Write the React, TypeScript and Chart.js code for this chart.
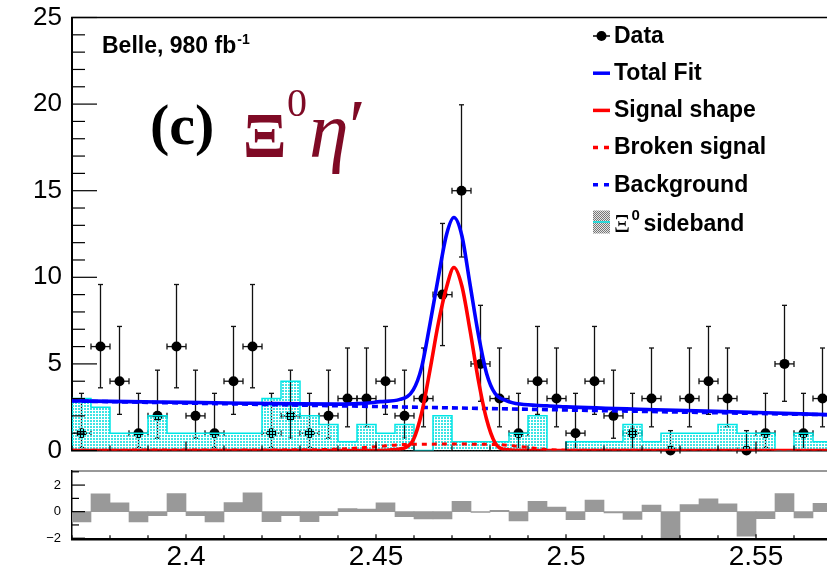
import React, { useEffect, useRef } from 'react';
import { Chart, registerables } from 'chart.js';

Chart.register(...registerables);

// ---------------- data ----------------
const binLow = 2.37;
const binWidth = 0.005;
const xMin = 2.37;
const xMax = 2.57;

const counts = [1, 6, 4, 1, 2, 6, 2, 1, 4, 6, 1, 2, 1, 2, 3, 3, 4, 2, 3, 9, 15, 5, 3, 1, 4, 3, 1, 4, 2, 1, 3, 0, 3, 4, 3, 0, 1, 5, 1, 3];
const sideband = [3, 2.5, 1, 1, 2, 1, 1, 1, 1, 1, 3, 4, 2, 1.5, 0.5, 1.5, 1, 1.5, 0, 2, 0.5, 0.5, 0.5, 1, 2, 0, 0.5, 0.5, 0.5, 1.5, 0.5, 1, 1, 1, 1.5, 1, 1, 0, 1, 0.5];
const pulls = [-0.78, 1.34, 0.66, -0.78, -0.3, 1.37, -0.3, -0.78, 0.68, 1.42, -0.76, -0.3, -0.76, -0.3, 0.23, 0.2, 0.66, -0.38, -0.55, -0.55, 0.78, -0.05, 0.1, -0.7, 0.78, 0.35, -0.6, 0.88, -0.1, -0.58, 0.5, -1.95, 0.53, 0.96, 0.58, -1.85, -0.53, 1.37, -0.48, 0.63];

// 68% Poisson interval limits, indexed by count
const poissonLow = [0, 0.173, 0.708, 1.367, 2.086, 2.84, 3.62, 4.419, 5.232, 6.057, 6.891, 7.734, 8.585, 9.441, 10.304, 11.172];
const poissonHigh = [1.148, 3.3, 4.638, 5.918, 7.163, 8.382, 9.584, 10.77, 11.95, 13.11, 14.27, 15.42, 16.56, 17.7, 18.83, 19.96];

// fit curves
const totalFitX = [2.37, 2.385, 2.4, 2.415, 2.43, 2.44, 2.447, 2.4511, 2.4563, 2.4598, 2.462, 2.4642, 2.4664, 2.4686, 2.4705, 2.4726, 2.4747, 2.4769, 2.4791, 2.4813, 2.4844, 2.4879, 2.495, 2.5, 2.5263, 2.5526, 2.57];
const totalFitY = [2.87, 2.82, 2.78, 2.73, 2.69, 2.68, 2.72, 2.82, 2.95, 3.5, 4.8, 7.3, 10.0, 12.5, 13.45, 12.4, 9.65, 6.75, 4.45, 3.3, 2.87, 2.68, 2.58, 2.52, 2.34, 2.18, 2.06];
const signalX = [2.37, 2.45, 2.455, 2.4581, 2.4598, 2.462, 2.4642, 2.4664, 2.4686, 2.4705, 2.4726, 2.4747, 2.4769, 2.4791, 2.4813, 2.4835, 2.49, 2.57];
const signalY = [0, 0, 0.05, 0.2, 0.6, 2.15, 4.64, 7.34, 9.45, 10.57, 9.5, 7.0, 4.1, 1.8, 0.45, 0.07, 0, 0];
const brokenX = [2.37, 2.43, 2.44, 2.45, 2.457, 2.47, 2.483, 2.489, 2.495, 2.5, 2.57];
const brokenY = [0.02, 0.04, 0.08, 0.22, 0.34, 0.37, 0.33, 0.2, 0.06, 0.02, 0.0];
const bkgX = [2.37, 2.47, 2.57];
const bkgY = [2.86, 2.46, 2.06];

// axes
const mainYTicks = [0, 5, 10, 15, 20, 25];
const mainYLabels = ['0', '5', '10', '15', '20', '25'];
const pullYTicks = [-2, 0, 2];
const pullYLabels = ['\u22122', '0', '2'];
const xTicks = [2.4, 2.45, 2.5, 2.55];
const xTickLabels = ['2.4', '2.45', '2.5', '2.55'];

// texts
const legendLabels = ['Data', 'Total Fit', 'Signal shape', 'Broken signal', 'Background', ' sideband'];
const sidebandSymbol = 'Ξ';
const sidebandSup = '0';
const experimentLabel = 'Belle, 980 fb';
const experimentSup = '-1';
const panelLabel = '(c)';
const channelXi = 'Ξ';
const channelSup = '0';
const channelEta = 'η';
const channelPrime = '′';

// ---------------- style ----------------
const SANS = '"Liberation Sans", Arial, Helvetica, sans-serif';
const SERIF = '"Liberation Serif", "Times New Roman", serif';
const BLUE = '#0000ff';
const RED = '#ff0000';
const CYAN = '#00e6e6';
const DARKRED = '#7f0a25';

const pts = (xs: number[], ys: number[]) => xs.map((x, i) => ({ x, y: ys[i] }));
const centers = counts.map((_, i) => binLow + (i + 0.5) * binWidth);

function histPoints(vals: number[]) {
  const out: { x: number; y: number }[] = [{ x: binLow, y: 0 }];
  vals.forEach((v, i) => out.push({ x: binLow + i * binWidth, y: v }));
  const end = binLow + vals.length * binWidth;
  out.push({ x: end, y: vals[vals.length - 1] });
  out.push({ x: end, y: 0 });
  return out;
}

function makeChecker(color: string, bg: string | null, size = 4) {
  const c = document.createElement('canvas');
  c.width = size;
  c.height = size;
  const g = c.getContext('2d')!;
  if (bg) {
    g.fillStyle = bg;
    g.fillRect(0, 0, size, size);
  }
  g.fillStyle = color;
  g.fillRect(0, 0, size / 2, size / 2);
  g.fillRect(size / 2, size / 2, size / 2, size / 2);
  return g.createPattern(c, 'repeat')!;
}

function makeDots(color: string, tile: number, dot: number) {
  const c = document.createElement('canvas');
  c.width = tile;
  c.height = tile;
  const g = c.getContext('2d')!;
  g.fillStyle = color;
  g.fillRect(0, 0, dot, dot);
  return g.createPattern(c, 'repeat')!;
}

function seg(ctx: CanvasRenderingContext2D, x1: number, y1: number, x2: number, y2: number) {
  ctx.beginPath();
  ctx.moveTo(x1, y1);
  ctx.lineTo(x2, y2);
  ctx.stroke();
}

const noOverflow = (s: any) => {
  s.paddingTop = 0;
  s.paddingBottom = 0;
  s.paddingLeft = 0;
  s.paddingRight = 0;
};

const errorBarPlugin = {
  id: 'errorBars',
  beforeDatasetDraw(chart: any, args: any) {
    if (args.index !== 0) return;
    const { ctx } = chart;
    const x = chart.scales.x;
    const y = chart.scales.y;
    ctx.save();
    ctx.strokeStyle = '#111';
    ctx.lineWidth = 1.3;
    counts.forEach((c, i) => {
      const cx = centers[i];
      const px = x.getPixelForValue(cx);
      const pl = x.getPixelForValue(cx - binWidth / 2);
      const pr = x.getPixelForValue(cx + binWidth / 2);
      const py = y.getPixelForValue(c);
      const yt = y.getPixelForValue(poissonHigh[c]);
      const yb = y.getPixelForValue(poissonLow[c]);
      seg(ctx, px, yt, px, yb);
      seg(ctx, px - 2.5, yt, px + 2.5, yt);
      if (c > 0) seg(ctx, px - 2.5, yb, px + 2.5, yb);
      seg(ctx, pl, py, pr, py);
      seg(ctx, pl, py - 3, pl, py + 3);
      seg(ctx, pr, py - 3, pr, py + 3);
    });
    ctx.restore();
  },
};

const topDecor = {
  id: 'topDecor',
  afterDraw(chart: any) {
    const { ctx, chartArea: a } = chart;
    const x = chart.scales.x;
    const y = chart.scales.y;
    ctx.save();
    ctx.strokeStyle = '#000';
    ctx.lineWidth = 1.5;
    seg(ctx, a.left - 1, a.top, a.right + 2, a.top);
    ctx.lineWidth = 1.2;
    for (let v = 0; v <= 25; v++) {
      const py = y.getPixelForValue(v);
      seg(ctx, a.left, py, a.left + (v % 5 === 0 ? 25 : 13), py);
    }
    for (let k = 0; k <= 20; k++) {
      const v = xMin + k * 0.01;
      const px = x.getPixelForValue(v);
      seg(ctx, px, a.bottom, px, a.bottom - (k % 5 === 3 ? 9 : 5));
    }

    // experiment label
    ctx.fillStyle = '#000';
    ctx.textAlign = 'left';
    ctx.textBaseline = 'alphabetic';
    ctx.font = `bold 23px ${SANS}`;
    ctx.fillText(experimentLabel, 102, 53);
    const w = ctx.measureText(experimentLabel).width;
    ctx.font = `bold 14px ${SANS}`;
    ctx.fillText(experimentSup, 102 + w + 1, 44);

    // panel label
    ctx.font = `bold 58px ${SERIF}`;
    ctx.fillText(panelLabel, 150, 144);
    ctx.fillStyle = DARKRED;
    ctx.font = `bold 64px ${SERIF}`;
    ctx.fillText(channelXi, 243, 157);
    ctx.font = `40px ${SERIF}`;
    ctx.fillText(channelSup, 287, 116);
    ctx.font = `italic 80px ${SERIF}`;
    ctx.fillText(channelEta, 309, 157);
    ctx.font = `76px ${SERIF}`;
    ctx.fillText(channelPrime, 349, 152);

    // legend
    const lx0 = 593;
    const lx1 = 610;
    const top = 36;
    const step = 37.2;
    ctx.textBaseline = 'middle';
    legendLabels.forEach((label, i) => {
      const ly = top + i * step;
      ctx.save();
      if (i === 0) {
        ctx.strokeStyle = '#000';
        ctx.lineWidth = 1.5;
        seg(ctx, lx0, ly, lx1, ly);
        ctx.fillStyle = '#000';
        ctx.beginPath();
        ctx.arc((lx0 + lx1) / 2, ly, 5, 0, Math.PI * 2);
        ctx.fill();
      } else if (i >= 1 && i <= 4) {
        ctx.strokeStyle = i === 1 || i === 4 ? BLUE : RED;
        ctx.lineWidth = 3.5;
        if (i >= 3) ctx.setLineDash([5, 6]);
        seg(ctx, lx0, ly, lx1, ly);
      } else {
        ctx.fillStyle = makeChecker('#777', '#e4e4e4', 2);
        ctx.fillRect(lx0, ly - 11.5, lx1 - lx0, 23);
        ctx.strokeStyle = CYAN;
        ctx.lineWidth = 1.5;
        seg(ctx, lx0, ly, lx1, ly);
      }
      ctx.restore();
      ctx.fillStyle = '#000';
      if (i < 5) {
        ctx.font = `bold 23px ${SANS}`;
        ctx.fillText(label, 614, ly + 0.5);
      } else {
        ctx.textBaseline = 'alphabetic';
        ctx.font = `25px ${SERIF}`;
        ctx.fillText(sidebandSymbol, 614, ly + 10);
        ctx.font = `bold 15px ${SANS}`;
        ctx.fillText(sidebandSup, 631.5, ly - 2);
        ctx.font = `bold 23px ${SANS}`;
        ctx.fillText(label, 637, ly + 8.5);
      }
    });
    ctx.restore();
  },
};

const bottomDecor = {
  id: 'bottomDecor',
  afterDraw(chart: any) {
    const { ctx, chartArea: a } = chart;
    const x = chart.scales.x;
    const y = chart.scales.y;
    ctx.save();
    ctx.strokeStyle = '#333';
    ctx.lineWidth = 1;
    seg(ctx, a.left, a.top, a.right + 2, a.top);
    ctx.strokeStyle = '#000';
    ctx.lineWidth = 1.2;
    for (let v = -2; v <= 3; v++) {
      const py = y.getPixelForValue(v);
      seg(ctx, a.left, py, a.left + (v % 2 === 0 ? 13 : 7), py);
    }
    for (let k = 0; k <= 20; k++) {
      const v = xMin + k * 0.01;
      const px = x.getPixelForValue(v);
      seg(ctx, px, a.bottom, px, a.bottom - (k % 5 === 3 ? 5 : 4));
    }
    ctx.restore();
  },
};

export default function App() {
  const topRef = useRef<HTMLCanvasElement>(null);
  const botRef = useRef<HTMLCanvasElement>(null);

  useEffect(() => {
    const histFill = makeDots('#3ee4e4', 3, 2);
    const top = new Chart(topRef.current!, {
      type: 'scatter',
      data: {
        datasets: [
          {
            type: 'scatter',
            label: 'Data',
            data: counts.map((c, i) => ({ x: centers[i], y: c })),
            pointRadius: 5,
            pointBackgroundColor: '#000',
            pointBorderWidth: 0,
            clip: false,
            order: 10,
          } as any,
          {
            type: 'line',
            label: 'sideband',
            data: histPoints(sideband),
            stepped: 'before',
            fill: 'origin',
            backgroundColor: histFill,
            borderColor: CYAN,
            borderWidth: 1.5,
            pointRadius: 0,
            order: 9,
          },
          {
            type: 'line',
            label: 'Total Fit',
            data: pts(totalFitX, totalFitY),
            borderColor: BLUE,
            borderWidth: 3.6,
            pointRadius: 0,
            cubicInterpolationMode: 'monotone',
            fill: false,
            order: 6,
          },
          {
            type: 'line',
            label: 'Background',
            data: pts(bkgX, bkgY),
            borderColor: BLUE,
            borderWidth: 3.6,
            borderDash: [6, 4],
            pointRadius: 0,
            fill: false,
            order: 5,
          },
          {
            type: 'line',
            label: 'Broken signal',
            data: pts(brokenX, brokenY),
            borderColor: RED,
            borderWidth: 3,
            borderDash: [5, 5],
            pointRadius: 0,
            cubicInterpolationMode: 'monotone',
            fill: false,
            order: 4,
          },
          {
            type: 'line',
            label: 'Signal shape',
            data: pts(signalX, signalY),
            borderColor: RED,
            borderWidth: 3.6,
            pointRadius: 0,
            cubicInterpolationMode: 'monotone',
            fill: false,
            order: 3,
          },
        ],
      },
      options: {
        responsive: false,
        animation: false,
        devicePixelRatio: 1,
        events: [],
        layout: { padding: { top: 17.5, bottom: 9.5, left: 0, right: 8 } },
        plugins: { legend: { display: false }, tooltip: { enabled: false } },
        scales: {
          x: {
            type: 'linear',
            min: xMin,
            max: xMax,
            position: 'bottom',
            ticks: { display: false },
            grid: { display: false, drawTicks: false },
            border: { display: true, color: '#000', width: 1.5 },
            afterFit: (s: any) => {
              s.height = 0;
              noOverflow(s);
            },
          },
          y: {
            type: 'linear',
            min: 0,
            max: 25,
            position: 'left',
            afterBuildTicks: (s: any) => {
              s.ticks = mainYTicks.map((v) => ({ value: v }));
            },
            afterFit: (s: any) => {
              s.width = 72;
              noOverflow(s);
            },
            ticks: {
              autoSkip: false,
              font: { family: SANS, size: 26 },
              color: '#000',
              padding: 10,
              callback: (_v: any, i: number) => mainYLabels[i],
            },
            grid: { display: false, drawTicks: false },
            border: { display: true, color: '#000', width: 2 },
          },
        },
      } as any,
      plugins: [errorBarPlugin, topDecor],
    });

    const bottom = new Chart(botRef.current!, {
      type: 'bar',
      data: {
        datasets: [
          {
            label: 'Pull',
            data: pulls.map((p, i) => ({ x: centers[i], y: p })),
            backgroundColor: '#999999',
            borderWidth: 0,
            barPercentage: 1,
            categoryPercentage: 1,
          } as any,
        ],
      },
      options: {
        responsive: false,
        animation: false,
        devicePixelRatio: 1,
        events: [],
        layout: { padding: { top: 11, bottom: 0, left: 0, right: 8 } },
        plugins: { legend: { display: false }, tooltip: { enabled: false } },
        scales: {
          x: {
            type: 'linear',
            min: xMin,
            max: xMax,
            offset: false,
            afterBuildTicks: (s: any) => {
              s.ticks = xTicks.map((v) => ({ value: v }));
            },
            afterFit: (s: any) => {
              s.height = 33.7;
              noOverflow(s);
            },
            ticks: {
              autoSkip: false,
              maxRotation: 0,
              font: { family: SANS, size: 28 },
              color: '#000',
              padding: 1,
              callback: (_v: any, i: number) => xTickLabels[i],
            },
            grid: { display: false, drawTicks: false, offset: false },
            border: { display: true, color: '#000', width: 2.5 },
          },
          y: {
            type: 'linear',
            min: -2.08,
            max: 3.06,
            afterBuildTicks: (s: any) => {
              s.ticks = pullYTicks.map((v) => ({ value: v }));
            },
            afterFit: (s: any) => {
              s.width = 72;
              noOverflow(s);
            },
            ticks: {
              autoSkip: false,
              font: { family: SANS, size: 13 },
              color: '#000',
              padding: 11,
              callback: (_v: any, i: number) => pullYLabels[i],
            },
            grid: { display: false, drawTicks: false },
            border: { display: true, color: '#000', width: 1.5 },
          },
        },
      } as any,
      plugins: [bottomDecor],
    });

    return () => {
      top.destroy();
      bottom.destroy();
    };
  }, []);

  return (
    <div
      style={{
        position: 'absolute',
        left: 0,
        top: 0,
        width: 827,
        height: 573,
        overflow: 'hidden',
        background: '#fff',
      }}
    >
      <canvas
        ref={topRef}
        width={840}
        height={460}
        style={{ position: 'absolute', left: 0, top: 0, width: 840, height: 460 }}
      />
      <canvas
        ref={botRef}
        width={840}
        height={113}
        style={{ position: 'absolute', left: 0, top: 460, width: 840, height: 113 }}
      />
    </div>
  );
}
